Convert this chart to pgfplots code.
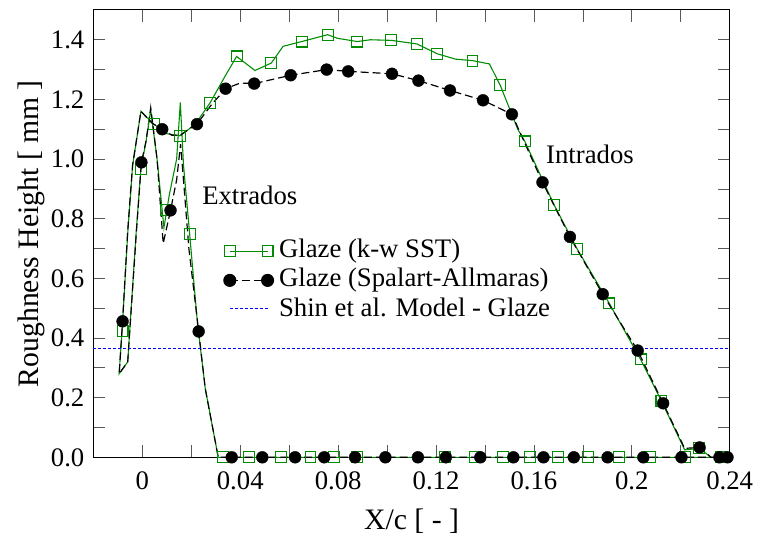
\documentclass[border=0pt]{standalone}
\usepackage{fontspec}
\setmainfont{Liberation Serif}
\usepackage{pgfplots}
\pgfplotsset{compat=1.18}
\definecolor{ggreen}{RGB}{0,140,0}
\definecolor{sblue}{RGB}{0,0,255}

\begin{document}
\fontsize{27}{32}\selectfont
\begin{tikzpicture}
\begin{axis}[
  scale only axis, width=640bp, height=450bp,
  xmin=-0.02, xmax=0.24, ymin=0, ymax=1.5,
  clip=false,
  axis line style={line width=1pt},
  xtick={0,0.04,0.08,0.12,0.16,0.2,0.24},
  xticklabels={\textrm{0},\textrm{0.04},\textrm{0.08},\textrm{0.12},\textrm{0.16},\textrm{0.2},\textrm{0.24}},
  ytick={0,0.2,0.4,0.6,0.8,1.0,1.2,1.4},
  yticklabels={\textrm{0.0},\textrm{0.2},\textrm{0.4},\textrm{0.6},\textrm{0.8},\textrm{1.0},\textrm{1.2},\textrm{1.4}},
  minor x tick num=1, minor y tick num=1,
  tick align=inside, major tick length=12bp, minor tick length=12bp,
  tick style={gray!70!black, line width=0.7pt},
  tick label style={font=\fontsize{27}{32}\selectfont},
  xticklabel style={yshift=-5bp},
  xlabel={X/c [ - ]}, ylabel={Roughness Height [ mm ]},
  label style={font=\fontsize{30}{36}\selectfont},
  xlabel style={yshift=-1bp},
  ylabel style={yshift=-12bp},
  legend style={at={(0.2,0.497)}, anchor=north west, draw=none, fill=none,
    font=\fontsize{27}{32}\selectfont, row sep=1.5bp,
    nodes={inner sep=1.5bp, text height=19bp, text depth=6bp}},
  legend cell align=left,
  legend image code/.code={\draw[mark repeat=2, mark phase=1]
    plot coordinates {(0bp,0bp) (19bp,0bp) (38bp,0bp)};
    \path[draw=none] (0bp,0bp) -- (48bp,0bp);},
]
% k-w SST line
\addplot[ggreen, line width=1.1pt, forget plot] coordinates {
 (0.2400,0.000) (0.0310,0.000) (0.0257,0.230) (0.0225,0.450) (0.0193,0.750)
 (0.0168,0.980) (0.0155,1.190) (0.0140,1.000) (0.0110,0.880) (0.0088,0.770)
 (0.0060,1.000) (0.0034,1.165) (0.0015,1.060) (-0.0006,0.967) (-0.0025,0.760)
 (-0.0060,0.320) (-0.0095,0.280) (-0.0083,0.424) (-0.0060,0.750) (-0.0040,0.978)
 (-0.0006,1.160) (0.0047,1.117) (0.0100,1.085) (0.0153,1.078) (0.0190,1.100)
 (0.0223,1.125) (0.0277,1.189) (0.0338,1.278) (0.0385,1.344) (0.0460,1.297)
 (0.0527,1.322) (0.0575,1.378) (0.0651,1.394) (0.0757,1.417) (0.0797,1.405)
 (0.0878,1.394) (0.0932,1.400) (0.1017,1.398) (0.1122,1.386) (0.1205,1.353)
 (0.1280,1.335) (0.1349,1.330) (0.1418,1.319) (0.1462,1.248) (0.1534,1.100)
 (0.1563,1.059) (0.1682,0.847) (0.1777,0.698) (0.1908,0.516) (0.2036,0.328)
 (0.2121,0.189) (0.2216,0.025) (0.2276,0.030) (0.2324,0.000) (0.2400,0.000)};
% Spalart-Allmaras line
\addplot[black, line width=1.2pt, dash pattern=on 8bp off 4bp, forget plot] coordinates {
 (0.2400,0.000) (0.0310,0.000) (0.0257,0.230) (0.0230,0.422) (0.0190,0.700)
 (0.0168,0.930) (0.0156,1.050) (0.0140,0.930) (0.0115,0.828) (0.0085,0.717)
 (0.0060,1.000) (0.0034,1.172) (0.0015,1.060) (-0.0004,0.989) (-0.0025,0.750)
 (-0.0060,0.320) (-0.0095,0.280) (-0.0081,0.456) (-0.0060,0.760) (-0.0040,0.980)
 (-0.0006,1.160) (0.0040,1.120) (0.0081,1.100) (0.0120,1.080) (0.0155,1.080)
 (0.0190,1.100) (0.0223,1.117) (0.0280,1.180) (0.0340,1.236) (0.0400,1.255)
 (0.0457,1.253) (0.0606,1.281) (0.0753,1.300) (0.0841,1.294) (0.1020,1.286)
 (0.1128,1.263) (0.1257,1.230) (0.1392,1.197) (0.1510,1.150) (0.1635,0.922)
 (0.1747,0.739) (0.1881,0.547) (0.2024,0.358) (0.2128,0.181) (0.2216,0.030)
 (0.2277,0.033) (0.2324,0.000) (0.2400,0.000)};
% Shin et al. model
\addplot[sblue, line width=0.9pt, dash pattern=on 3bp off 2bp, forget plot] coordinates {
 (-0.02,0.365) (0.24,0.365)};
% k-w SST markers
\addplot[ggreen, only marks, mark=square, mark size=5.5pt,
  mark options={line width=1.1pt, solid}, forget plot] coordinates {
 (-0.0081,0.424) (-0.0006,0.967) (0.0047,1.117) (0.0095,0.828) (0.0153,1.078)
 (0.0193,0.750) (0.0277,1.189) (0.0385,1.344) (0.0527,1.322) (0.0651,1.394)
 (0.0757,1.417) (0.0878,1.394) (0.1017,1.398) (0.1122,1.386) (0.1205,1.353)
 (0.1349,1.330) (0.1462,1.248) (0.1563,1.059) (0.1682,0.847) (0.1777,0.698)
 (0.1908,0.516) (0.2036,0.328) (0.2121,0.189) (0.2276,0.030)
 (0.0331,0) (0.0437,0) (0.0565,0) (0.0687,0) (0.0784,0) (0.0878,0)
 (0.1236,0) (0.1358,0) (0.1473,0) (0.1584,0) (0.1698,0) (0.1820,0)
 (0.1946,0) (0.2074,0) (0.2216,0) (0.2365,0)};
% Spalart-Allmaras markers
\addplot[black, only marks, mark=*, mark size=6pt, mark options={solid}, forget plot] coordinates {
 (-0.0081,0.456) (-0.0004,0.989) (0.0081,1.100) (0.0115,0.828) (0.0223,1.117)
 (0.0230,0.422) (0.0340,1.236) (0.0457,1.253) (0.0606,1.281) (0.0753,1.300)
 (0.0841,1.294) (0.1020,1.286) (0.1128,1.263) (0.1257,1.230) (0.1392,1.197)
 (0.1510,1.150) (0.1635,0.922) (0.1747,0.739) (0.1881,0.547) (0.2024,0.358)
 (0.2128,0.181) (0.2277,0.033)
 (0.0365,0) (0.0490,0) (0.0624,0) (0.0743,0) (0.0869,0) (0.0993,0)
 (0.1126,0) (0.1240,0) (0.1381,0) (0.1516,0) (0.1639,0) (0.1763,0)
 (0.1901,0) (0.2047,0) (0.2203,0) (0.2358,0) (0.2391,0)};

\addlegendimage{draw=ggreen, line width=1.1pt, mark=square, mark size=5.5pt, mark options={solid, draw=ggreen}}
\addlegendentry{Glaze (k-w SST)}
\addlegendimage{draw=black, line width=1.2pt, dash pattern=on 8bp off 4bp, mark=*, mark size=6pt, mark options={solid, fill=black}}
\addlegendentry{Glaze (Spalart-Allmaras)}
\addlegendimage{legend image code/.code={
  \draw[sblue, line width=1pt, dash pattern=on 3bp off 2bp] (0bp,1bp) -- (38bp,1bp);
  \path[draw=none] (0bp,0bp) -- (48bp,0bp);}}
\addlegendentry{Shin et al. Model - Glaze}

\node at (axis cs:0.0439,0.877) {Extrados};
\node at (axis cs:0.1829,1.017) {Intrados};
\end{axis}
\path ([shift={(-94bp,-75bp)}]current axis.south west) rectangle ([shift={(28bp,10bp)}]current axis.north east);
\end{tikzpicture}
\end{document}
